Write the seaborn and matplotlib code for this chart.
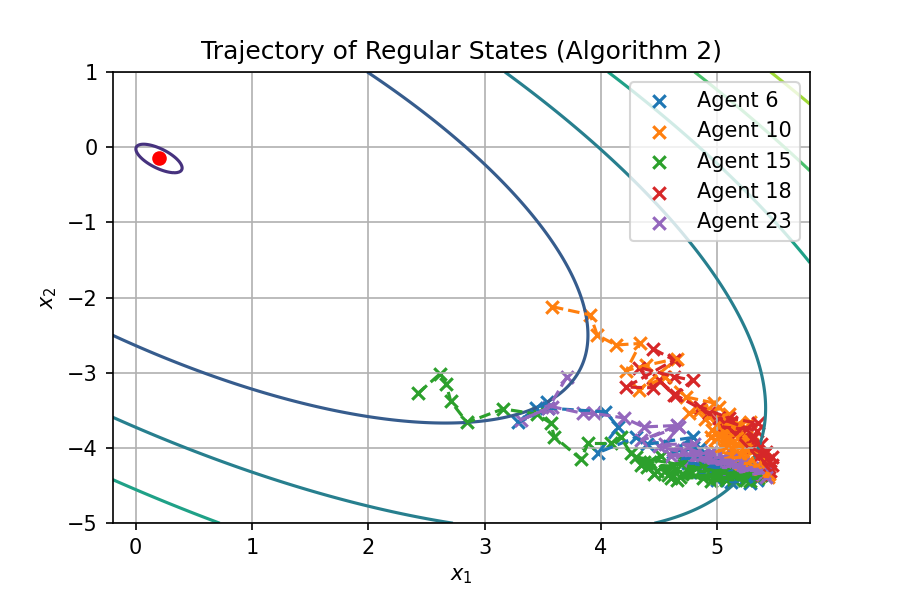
import numpy as np
import matplotlib
matplotlib.use("Agg")
import matplotlib.pyplot as plt
import seaborn as sns

# quadratic cost: f(x) = (x - c)^T A (x - c)
center = [0.2, -0.15]
A = [[1.0, 0.7], [0.7, 1.1]]
levels = [-7.5, 0.022, 7.55, 15.1, 22.6, 30.1, 37.6, 45.1]

agents = [6, 10, 15, 18, 23]
colors = ["tab:blue", "tab:orange", "tab:green", "tab:red", "tab:purple"]

# agent 6
x6 = [3.54, 3.44, 3.29, 3.55, 4.04, 4.15, 3.98, 4.30, 4.40, 4.79, 4.62, 4.85, 4.70,
      4.95, 5.05, 4.90, 5.15, 5.00, 5.20, 5.10, 5.30, 5.25, 5.35, 5.18, 5.32, 5.38,
      4.75, 4.90, 5.05, 4.85, 5.15, 5.00, 5.25, 5.12, 5.34, 5.28]
y6 = [-3.39, -3.47, -3.66, -3.47, -3.52, -3.72, -4.06, -3.86, -3.95, -3.86, -4.05, -4.00, -4.15,
      -4.10, -4.20, -4.25, -4.25, -4.35, -4.30, -4.38, -4.33, -4.40, -4.37, -4.35, -4.30, -4.36,
      -4.20, -4.22, -4.30, -4.32, -4.34, -4.42, -4.40, -4.45, -4.42, -4.46]

# agent 10
x10 = [3.58, 3.91, 3.97, 4.13, 4.34, 4.22, 4.39, 4.66, 4.33, 4.55, 4.73, 4.97, 4.76, 4.85,
       5.02, 4.90, 5.10, 5.00, 5.28, 4.95, 5.15, 5.05, 5.25, 5.12, 5.30, 5.20, 5.35, 5.28,
       5.40, 5.35, 5.42, 5.38, 5.45, 5.40,
       5.02, 5.18, 4.98, 5.22, 5.08, 5.26, 5.00, 5.14, 5.30, 5.06, 5.20, 5.12, 5.28, 5.16,
       5.34, 5.22, 5.38, 5.30, 5.44, 5.36,
       5.05, 5.12, 4.96, 5.18, 5.08, 5.24, 5.02, 5.15]
y10 = [-2.12, -2.23, -2.50, -2.63, -2.61, -2.97, -2.90, -2.81, -3.23, -3.05, -3.32, -3.40, -3.54, -3.50,
       -3.45, -3.62, -3.55, -3.70, -3.65, -3.85, -3.78, -3.95, -3.85, -4.00, -3.95, -4.10, -4.05, -4.18,
       -4.15, -4.25, -4.20, -4.30, -4.35, -4.32,
       -3.72, -3.68, -3.90, -3.80, -3.98, -3.92, -4.05, -4.08, -4.02, -4.15, -4.12, -4.22, -4.20, -4.28,
       -4.24, -4.32, -4.30, -4.36, -4.38, -4.34,
       -3.80, -3.88, -3.76, -3.96, -3.92, -4.00, -3.84, -3.74]

# agent 15
x15 = [2.43, 2.62, 2.67, 2.71, 2.85, 3.16, 3.45, 3.57, 3.60, 3.83, 3.89, 4.09, 4.17, 4.26,
       4.37, 4.46, 4.40, 4.55, 4.66, 4.75, 4.85, 4.95, 5.05, 5.10, 5.20, 4.60, 5.27, 5.00,
       5.25, 5.35,
       4.30, 4.42, 4.52, 4.35, 4.62, 4.48, 4.72, 4.58, 4.82, 4.68, 4.92, 4.78, 5.02, 4.88,
       5.12, 4.98, 5.22, 5.08, 5.32, 5.18, 5.38, 5.28, 4.70, 4.95, 5.15]
y15 = [-3.27, -3.01, -3.15, -3.38, -3.66, -3.48, -3.55, -3.67, -3.85, -4.15, -3.94, -3.94, -3.86, -4.07,
       -4.19, -4.34, -4.25, -4.30, -4.43, -4.30, -4.20, -4.35, -4.28, -4.38, -4.32, -4.40, -4.39, -4.40,
       -4.42, -4.40,
       -4.12, -4.18, -4.10, -4.22, -4.24, -4.30, -4.18, -4.36, -4.26, -4.38, -4.22, -4.32, -4.30, -4.40,
       -4.26, -4.36, -4.34, -4.42, -4.32, -4.38, -4.36, -4.44, -4.34, -4.44, -4.42]

# agent 18
x18 = [4.45, 4.63, 4.22, 4.45, 4.33, 4.63, 4.79, 4.63, 4.50, 4.65, 4.93, 4.85, 5.10, 5.35,
       5.16, 5.05, 5.25, 5.38, 5.30, 5.42, 5.47, 5.36, 5.42, 5.45, 5.40, 5.46,
       5.02, 5.12, 5.34, 5.30, 5.40, 5.44, 5.47, 5.38]
y18 = [-2.68, -2.83, -3.19, -3.20, -2.93, -3.05, -3.10, -3.30, -3.10, -3.30, -3.54, -3.45, -3.60, -3.67,
       -3.80, -3.72, -3.75, -3.95, -3.88, -4.05, -4.12, -4.10, -4.22, -4.25, -4.18, -4.30,
       -3.60, -3.66, -3.78, -4.00, -4.08, -4.16, -4.22, -4.34]

# agent 23
x23 = [3.71, 3.55, 3.31, 3.58, 3.85, 3.94, 4.20, 4.37, 4.66, 4.35, 4.67, 4.55, 4.80, 4.70,
       4.95, 4.85, 5.05, 5.00, 5.15, 5.10, 5.25, 5.20, 5.35, 5.30, 5.40,
       4.50, 4.62, 4.75, 4.88, 4.60, 5.00, 4.78, 5.12, 4.92, 5.22, 5.05, 5.30, 5.18, 5.38, 5.42]
y23 = [-3.05, -3.47, -3.63, -3.45, -3.54, -3.54, -3.60, -3.72, -3.70, -3.90, -3.72, -3.95, -3.95, -4.05,
       -4.05, -4.15, -4.12, -4.22, -4.18, -4.28, -4.22, -4.32, -4.28, -4.35, -4.33,
       -3.98, -4.02, -4.00, -4.08, -4.10, -4.10, -4.16, -4.16, -4.20, -4.20, -4.26, -4.26, -4.30, -4.30, -4.38]

traj_x = [x6, x10, x15, x18, x23]
traj_y = [y6, y10, y15, y18, y23]

fig = plt.figure(figsize=(6, 4), dpi=150)
ax = fig.add_axes([0.125, 0.128, 0.775, 0.752])

# contours of the cost
gx, gy = np.meshgrid(np.linspace(-0.2, 5.8, 400), np.linspace(-5, 1, 400))
dx, dy = gx - center[0], gy - center[1]
Z = A[0][0] * dx**2 + 2 * A[0][1] * dx * dy + A[1][1] * dy**2
ax.contour(gx, gy, Z, levels=levels, cmap="viridis", linewidths=1.5)

for n, c, xs, ys in zip(agents, colors, traj_x, traj_y):
    sns.lineplot(x=xs, y=ys, sort=False, estimator=None, color=c,
                 linestyle="--", linewidth=1.5, ax=ax)
    sns.scatterplot(x=xs, y=ys, marker="x", color=c, s=36, linewidth=1.5,
                    label=f"Agent {n}", ax=ax)

ax.plot(center[0], center[1], "ro")

ax.set_xlim(-0.2, 5.8)
ax.set_ylim(-5, 1)
ax.set_xlabel("$x_1$")
ax.set_ylabel("$x_2$")
ax.set_title("Trajectory of Regular States (Algorithm 2)")
ax.grid(True)
ax.legend(loc="upper right")

fig.savefig("out.png")
